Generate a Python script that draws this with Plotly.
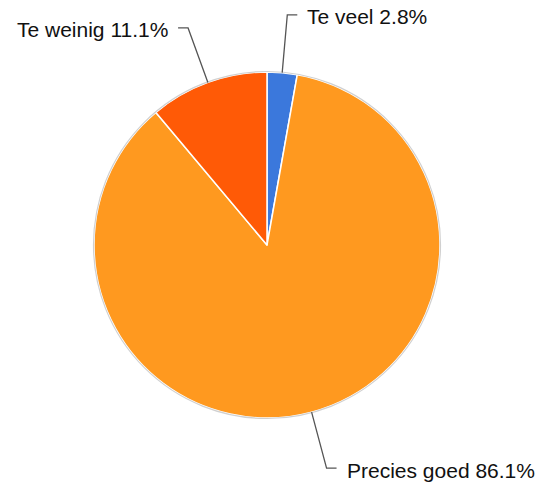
import math
import plotly.graph_objects as go

labels = ["Te veel", "Precies goed", "Te weinig"]
values = [2.8, 86.1, 11.1]
colors = ["#3b78dc", "#ff991f", "#ff5a06"]

W, H = 539, 489
cx, cy, R = 267, 245, 173

fig = go.Figure(go.Pie(
    labels=labels, values=values, sort=False, direction="clockwise", rotation=0,
    marker=dict(colors=colors, line=dict(color="white", width=1.5)),
    textinfo="none", hoverinfo="label+percent", showlegend=False,
    domain=dict(x=[(cx - R) / W, (cx + R) / W], y=[1 - (cy + R) / H, 1 - (cy - R) / H]),
))

def px(x):
    return x / W

def py(y):
    return 1 - y / H

shapes = [dict(type="circle", xref="paper", yref="paper",
               x0=px(cx - R - 0.5), x1=px(cx + R + 0.5), y0=py(cy + R + 0.5), y1=py(cy - R - 0.5),
               line=dict(color="#d0d0d0", width=1.2))]
annotations = []
total = sum(values)
cum = 0
for lab, v in zip(labels, values):
    mid = (cum + v / 2) / total * 2 * math.pi
    cum += v
    dx, dy = math.sin(mid), -math.cos(mid)
    x0, y0 = cx + R * dx, cy + R * dy
    x1, y1 = cx + (R + 58) * dx, cy + (R + 58) * dy
    side = 1 if dx >= 0 else -1
    x2 = x1 + side * 10
    shapes.append(dict(type="path", xref="paper", yref="paper",
                       path=f"M {px(x0)} {py(y0)} L {px(x1)} {py(y1)} L {px(x2)} {py(y1)}",
                       line=dict(color="#555555", width=1.3)))
    annotations.append(dict(x=px(x2 + side * 9), y=py(y1 + 2), xref="paper", yref="paper",
                            text=f"{lab} {v}%", showarrow=False, borderpad=0,
                            xanchor="left" if side > 0 else "right", yanchor="middle",
                            font=dict(family="Liberation Sans, Arial, sans-serif", size=21, color="#111111")))

fig.update_layout(width=W, height=H, margin=dict(l=0, r=0, t=0, b=0),
                  paper_bgcolor="white", plot_bgcolor="white",
                  shapes=shapes, annotations=annotations)
fig.write_html("out.html", config={"displayModeBar": False},
               post_script="document.body.style.margin='0';")
